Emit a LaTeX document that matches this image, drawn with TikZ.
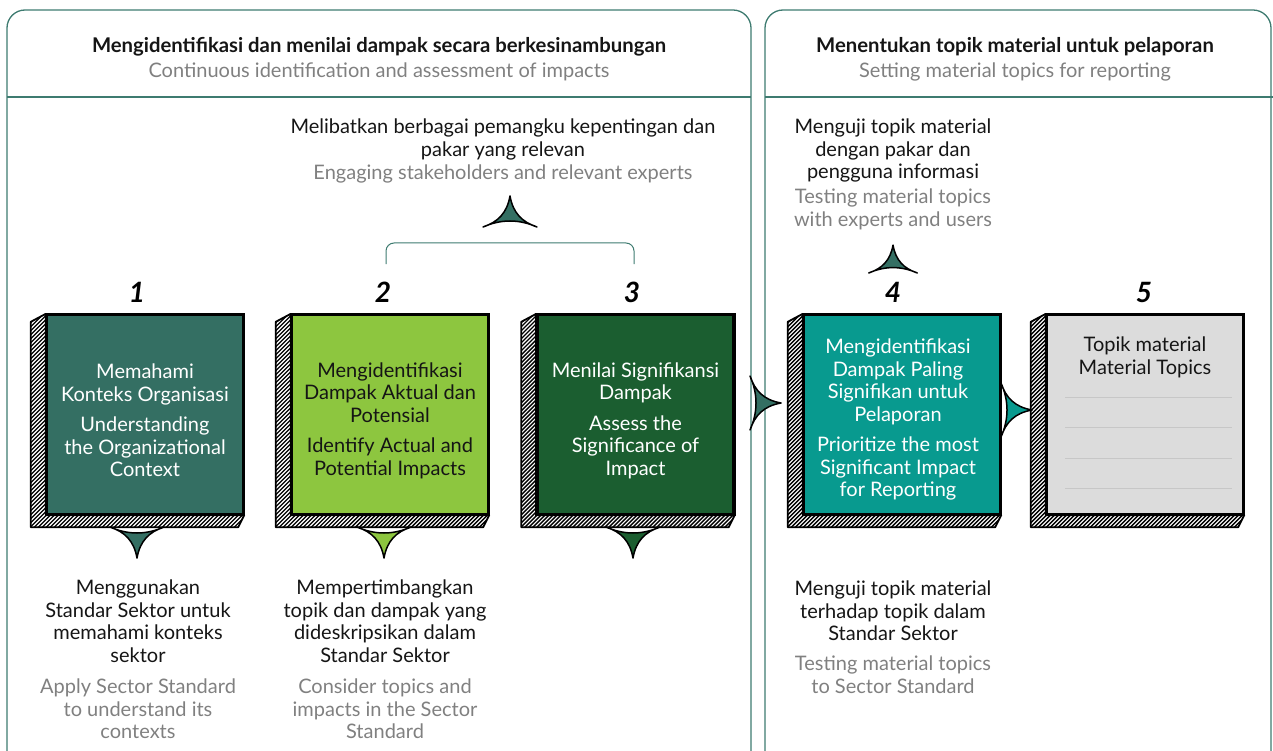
\documentclass[tikz,border=0pt]{standalone}
\usepackage{fontspec}
\setmainfont{Lato}
\usetikzlibrary{calc}
\definecolor{panel}{HTML}{3E7B70}
\definecolor{cone}{HTML}{346F63}
\definecolor{ctwo}{HTML}{8DC63F}
\definecolor{cthree}{HTML}{1B5E30}
\definecolor{cfour}{HTML}{089A8F}
\definecolor{cfive}{HTML}{DCDCDC}
\definecolor{greytxt}{HTML}{808080}
\definecolor{blacktxt}{HTML}{151515}
\newcommand\bodyfont{\fontsize{20}{22.5}\selectfont}
\newcommand\hatchside[1]{%
  \fill[white] (#1.north west) -- ++(-15,8) -- ($(#1.south west)+(-15,12)$) -- ($(#1.south east)+(-6,12)$) -- (#1.south east) -- (#1.south west) -- cycle;
  \begin{scope}
    \clip (#1.north west) -- ++(-15,8) -- ($(#1.south west)+(-15,12)$) -- ($(#1.south east)+(-6,12)$) -- (#1.south east) -- (#1.south west) -- cycle;
    \foreach \k in {-260,-256,...,260} \draw[line width=1.4] ($(#1.center)+(\k-120,130)$) -- ++(240,-240);
  \end{scope}
  \draw[line width=1.8, line join=round] (#1.north west) -- ++(-15,8) -- ($(#1.south west)+(-15,12)$) -- ($(#1.south east)+(-6,12)$) -- (#1.south east) -- (#1.south west) -- cycle;
  \draw[line width=2.4] (#1.north west) rectangle (#1.south east);
}
\tikzset{
  panelline/.style={draw=panel, line width=1.3},
  face/.style={draw=black, line width=2.4, minimum width=196, minimum height=199, inner sep=0},
  boxtext/.style={align=center, font=\bodyfont, inner sep=0},
  blk/.style={align=center, font=\bodyfont, inner sep=0, text=blacktxt, anchor=north},
  gry/.style={align=center, font=\bodyfont, inner sep=0, text=greytxt, anchor=north},
  numlbl/.style={font=\fontsize{28}{28}\selectfont\bfseries\itshape, inner sep=0},
  tri/.pic={\filldraw[line width=1.5, draw=black, line join=round, pic actions] (-27,0) .. controls (-9,8) and (9,8) .. (27,0) .. controls (12,5) and (3,14) .. (0,31) .. controls (-3,14) and (-12,5) .. (-27,0) -- cycle;}
}
\begin{document}
\begin{tikzpicture}[x=1pt,y=-1pt]
\useasboundingbox (0,0) rectangle (1273,751);
% panels
\draw[panelline, rounded corners=18] (7,751) -- (7,10) -- (751,10) -- (751,751);
\draw[panelline, rounded corners=18] (765,751) -- (765,10) -- (1271,10) -- (1271,751);
\draw[panelline] (7,97) -- (751,97);
\draw[panelline] (765,97) -- (1273,97);
\node[font=\fontsize{20.3}{22}\selectfont\bfseries, text=blacktxt] (h1) at (379,47) {Mengidentifikasi dan menilai dampak secara berkesinambungan};
\node[font=\bodyfont, text=greytxt] (h1e) at (379,72) {Continuous identification and assessment of impacts};
\node[font=\fontsize{20.3}{22}\selectfont\bfseries, text=blacktxt] (h2) at (1015,47) {Menentukan topik material untuk pelaporan};
\node[font=\bodyfont, text=greytxt] (h2e) at (1015,72) {Setting material topics for reporting};

% boxes
\node[face, fill=cone] (b1) at (145,414.5) {};
\node[face, fill=ctwo] (b2) at (390,414.5) {};
\node[face, fill=cthree] (b3) at (635.5,414.5) {};
\node[face, fill=cfour] (b4) at (902,414.5) {};
\node[face, fill=cfive] (b5) at (1145,414.5) {};
\hatchside{b1}
\hatchside{b2}
\hatchside{b3}
\hatchside{b4}
\hatchside{b5}

\node[boxtext, text=white] (t1) at ($(b1.center)+(0,6)$) {Memahami\\Konteks Organisasi\\[8pt]Understanding\\the Organizational\\Context};
\node[boxtext, text=blacktxt] (t2) at ($(b2.center)+(0,6)$) {Mengidentifikasi\\Dampak Aktual dan\\Potensial\\[8pt]Identify Actual and\\Potential Impacts};
\node[boxtext, text=white] (t3) at ($(b3.center)+(0,6)$) {Menilai Signifikansi\\Dampak\\[8pt]Assess the\\Significance of\\Impact};
\node[boxtext, text=white] (t4) at ($(b4.center)+(-4,5)$) {Mengidentifikasi\\Dampak Paling\\Signifikan untuk\\Pelaporan\\[8pt]Prioritize the most\\Significant Impact\\for Reporting};
\node[boxtext, text=blacktxt, anchor=north] (t5) at (1145,337) {Topik material\\Material Topics};
\foreach \yy in {397,427,458,488} \draw[draw=black!22, line width=0.8] (1065,\yy) -- (1232,\yy);

% numbers
\node[numlbl] (n1) at (137,292) {1};
\node[numlbl] (n2) at (383,292) {2};
\node[numlbl] (n3) at (632,292) {3};
\node[numlbl] (n4) at (893,292) {4};
\node[numlbl] (n5) at (1144,292) {5};

% bracket
\draw[panelline, line width=1] (386,264) [rounded corners=8] -- (386,243) -- (634,243) -- (634,264);

% arrows
\pic[fill=cone] at (137,527) {tri};
\pic[fill=ctwo] at (384,527) {tri};
\pic[fill=cthree] at (633,527) {tri};
\pic[fill=cone, rotate=180] at (510,227) {tri};
\pic[fill=cone, rotate=180, scale=0.9] at (893,273) {tri};
\pic[fill=cone, rotate=90] at (750,403) {tri};
\pic[fill=cfour, rotate=90] at (1001,410) {tri};

% texts outside
\node[blk] (top1) at (503,119) {Melibatkan berbagai pemangku kepentingan dan\\pakar yang relevan};
\node[gry] (top1e) at (503,165) {Engaging stakeholders and relevant experts};
\node[blk] (top4) at (893,119) {Menguji topik material\\dengan pakar dan\\pengguna informasi};
\node[gry] (top4e) at (893,189) {Testing material topics\\with experts and users};
\node[blk] (bot1) at (138,580) {Menggunakan\\Standar Sektor untuk\\memahami konteks\\sektor};
\node[gry] (bot1e) at (138,679) {Apply Sector Standard\\to understand its\\contexts};
\node[blk] (bot2) at (385,580) {Mempertimbangkan\\topik dan dampak yang\\dideskripsikan dalam\\Standar Sektor};
\node[gry] (bot2e) at (385,679) {Consider topics and\\impacts in the Sector\\Standard};
\node[blk] (bot4) at (893,581) {Menguji topik material\\terhadap topik dalam\\Standar Sektor};
\node[gry] (bot4e) at (893,656) {Testing material topics\\to Sector Standard};
\end{tikzpicture}
\end{document}
